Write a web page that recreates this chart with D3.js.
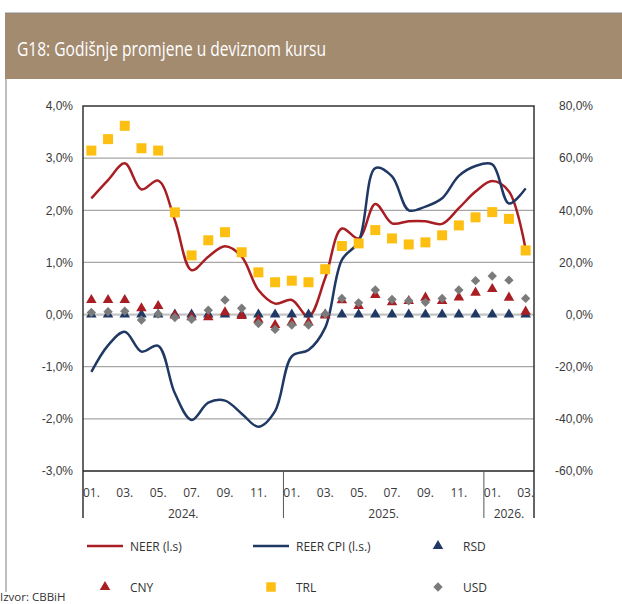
<!DOCTYPE html>
<html>
<head>
<meta charset="utf-8">
<script src="https://cdn.jsdelivr.net/npm/d3@7"></script>
<style>
  body { margin: 0; background: #fff; }
  svg { display: block; font-family: "Open Sans", sans-serif; }
</style>
</head>
<body>
<svg id="chart" width="622" height="604"></svg>
<script>
// Mjeseci (jan 2024 - mar 2026)
const months = ['01.','02.','03.','04.','05.','06.','07.','08.','09.','10.','11.','12.',
                '01.','02.','03.','04.','05.','06.','07.','08.','09.','10.','11.','12.',
                '01.','02.','03.'];
const years = [
  { label: '2024.', from: 0, to: 12 },
  { label: '2025.', from: 12, to: 24 },
  { label: '2026.', from: 24, to: 27 }
];

// Lijeva osa (%)
const neer = [2.23, 2.58, 2.90, 2.40, 2.57, 1.81, 0.85, 1.11, 1.31, 1.11, 0.47, 0.21, 0.28,
              -0.04, 0.70, 1.65, 1.46, 2.12, 1.75, 1.79, 1.79, 1.74, 2.04, 2.36, 2.56, 2.36, 1.25];
const reer = [-1.10, -0.59, -0.33, -0.71, -0.60, -1.51, -2.02, -1.69, -1.65, -1.90, -2.15, -1.85, -0.80,
              -0.68, -0.25, 1.05, 1.40, 2.81, 2.65, 2.00, 2.07, 2.23, 2.66, 2.85, 2.88, 2.13, 2.42];

// Desna osa (%)
const rsd = [0, 0, 0, 0, 0, 0, 0, 0, 0, 0, 0, 0, 0, 0, 0, 0, 0, 0, 0, 0, 0, 0, 0, 0, 0, 0, 0];
const cny = [5.6, 5.6, 5.6, 2.4, 3.3, -0.3, -1.0, -1.0, 0.9, -0.5, -2.0, -4.0, -3.0,
             -3.0, -0.3, 5.5, 3.3, 7.5, 4.7, 5.2, 6.5, 5.2, 6.6, 8.4, 9.8, 6.5, 1.1];
const trl = [62.9, 67.3, 72.4, 63.8, 62.9, 39.2, 22.7, 28.5, 31.6, 23.9, 16.2, 12.4, 13.0,
             12.4, 17.4, 26.3, 27.3, 32.4, 29.2, 26.9, 27.7, 30.4, 34.2, 37.3, 39.3, 36.7, 24.6];
const usd = [0.8, 1.1, 1.3, -2.1, 0.2, -1.1, -1.8, 1.7, 5.6, 2.4, -3.4, -5.7, -4.0,
             -4.0, 0.2, 6.2, 4.5, 9.4, 5.8, 5.3, 4.7, 6.2, 9.4, 13.0, 14.8, 13.2, 6.2];

const leftTicks = [-3, -2, -1, 0, 1, 2, 3, 4];
const rightTicks = [-60, -40, -20, 0, 20, 40, 60, 80];

const svg = d3.select('#chart');
const locale = d3.formatLocale({ decimal: ',', thousands: '.', grouping: [3], currency: ['', ''], minus: '-' });
const fmt = v => locale.format('.1f')(v) + '%';

const red = '#a81e23', navy = '#1f3864', yellow = '#fdbf12', gray = '#7b7b7b';

// Okvir i naslov
svg.append('line').attr('x1', 6).attr('x2', 6).attr('y1', 13).attr('y2', 592)
  .attr('stroke', '#a8a8a8').attr('stroke-width', 1.5);
svg.append('rect').attr('x', 5).attr('y', 13).attr('width', 620).attr('height', 66)
  .attr('fill', '#a38b70');
svg.append('line').attr('x1', 5).attr('x2', 622).attr('y1', 13).attr('y2', 13)
  .attr('stroke', '#8a8a8a').attr('stroke-width', 1);
svg.append('text').attr('x', 17).attr('y', 56).attr('fill', '#fff')
  .attr('font-size', 20).attr('textLength', 309).attr('lengthAdjust', 'spacingAndGlyphs')
  .text('G18: Godišnje promjene u deviznom kursu');

// Skale
const pLeft = 83, pRight = 534, pTop = 106, pBottom = 471;
const x = d3.scaleBand().domain(d3.range(months.length)).range([pLeft, pRight]);
const cx = i => x(i) + x.bandwidth() / 2;
const yL = d3.scaleLinear().domain([-3, 4]).range([pBottom, pTop]);
const yR = d3.scaleLinear().domain([-60, 80]).range([pBottom, pTop]);

// Mreža
svg.append('g').selectAll('line').data(leftTicks.filter(t => t > -3 && t < 4)).enter().append('line')
  .attr('x1', pLeft).attr('x2', pRight)
  .attr('y1', d => yL(d)).attr('y2', d => yL(d))
  .attr('stroke', d => d === 0 ? '#c4c4c4' : '#a6a6a6')
  .attr('stroke-width', d => d === 0 ? 2.2 : 1.2);

// Ose
const axL = svg.append('g').attr('transform', `translate(${pLeft},0)`)
  .call(d3.axisLeft(yL).tickValues(leftTicks).tickFormat(fmt).tickSize(0).tickPadding(10));
const axR = svg.append('g').attr('transform', `translate(${pRight},0)`)
  .call(d3.axisRight(yR).tickValues(rightTicks).tickFormat(fmt).tickSize(0).tickPadding(26));
[axL, axR].forEach(ax => {
  ax.select('.domain').remove();
  ax.selectAll('text').attr('font-size', 12).attr('fill', '#3a3a3a');
});
axR.selectAll('text').attr('text-anchor', 'end').attr('dx', 33);

// Okvir grafika
svg.append('path')
  .attr('d', `M${pLeft},${pBottom + 47}V${pTop}H${pRight}V${pBottom + 47}`)
  .attr('fill', 'none').attr('stroke', '#333').attr('stroke-width', 1.5);
svg.append('line').attr('x1', pLeft).attr('x2', pRight).attr('y1', pBottom).attr('y2', pBottom)
  .attr('stroke', '#222').attr('stroke-width', 1.5);
svg.append('g').selectAll('line').data(years.slice(1)).enter().append('line')
  .attr('x1', d => x(d.from)).attr('x2', d => x(d.from))
  .attr('y1', pBottom).attr('y2', pBottom + 47)
  .attr('stroke', '#555').attr('stroke-width', 1);

// Oznake osi x
svg.append('g').selectAll('text').data(months.map((m, i) => ({ m, i })).filter(d => d.i % 2 === 0))
  .enter().append('text')
  .attr('x', d => cx(d.i)).attr('y', 497)
  .attr('text-anchor', 'middle').attr('font-size', 12).attr('fill', '#3a3a3a')
  .text(d => d.m);
svg.append('g').selectAll('text').data(years).enter().append('text')
  .attr('x', d => (x(d.from) + (d.to < months.length ? x(d.to) : pRight)) / 2).attr('y', 518)
  .attr('text-anchor', 'middle').attr('font-size', 12).attr('fill', '#3a3a3a')
  .text(d => d.label);

// Linije
const line = yScale => d3.line().x((d, i) => cx(i)).y(d => yScale(d)).curve(d3.curveCatmullRom.alpha(0.5));
svg.append('path').datum(neer).attr('d', line(yL))
  .attr('fill', 'none').attr('stroke', red).attr('stroke-width', 2.5);
svg.append('path').datum(reer).attr('d', line(yL))
  .attr('fill', 'none').attr('stroke', navy).attr('stroke-width', 2.5);

// Markeri
const tri = d3.symbol().type(d3.symbolTriangle).size(48);
const sq = d3.symbol().type(d3.symbolSquare).size(100);
const dia = d3.symbol().type(d3.symbolSquare).size(44);

function markers(data, sym, color, rot) {
  svg.append('g').selectAll('path').data(data).enter().append('path')
    .attr('d', sym)
    .attr('transform', (d, i) => `translate(${cx(i)},${yR(d)})` + (rot ? ' rotate(45)' : ''))
    .attr('fill', color);
}
markers(rsd, tri, navy);
markers(cny, tri, red);
markers(usd, dia, gray, true);
markers(trl, sq, yellow);

// Legenda
const legend = [
  { label: 'NEER (l.s)', kind: 'line', color: red, x: 87, y: 546 },
  { label: 'REER CPI (l.s.)', kind: 'line', color: navy, x: 253, y: 546 },
  { label: 'RSD', kind: tri, color: navy, x: 420, y: 546 },
  { label: 'CNY', kind: tri, color: red, x: 87, y: 587 },
  { label: 'TRL', kind: d3.symbol().type(d3.symbolSquare).size(90), color: yellow, x: 253, y: 587 },
  { label: 'USD', kind: dia, color: gray, x: 420, y: 587, rot: true }
];
const lg = svg.append('g').selectAll('g').data(legend).enter().append('g')
  .attr('transform', d => `translate(${d.x},${d.y})`);
lg.filter(d => d.kind === 'line').append('line')
  .attr('x1', 0).attr('x2', 36).attr('stroke', d => d.color).attr('stroke-width', 2.5);
lg.filter(d => d.kind !== 'line').append('path')
  .attr('d', d => d.kind())
  .attr('transform', d => 'translate(18,0)' + (d.rot ? ' rotate(45)' : ''))
  .attr('fill', d => d.color);
lg.append('text').attr('x', 43).attr('y', 4.5)
  .attr('font-size', 12).attr('fill', '#333').text(d => d.label);

svg.append('text').attr('x', 0).attr('y', 601).attr('font-size', 11.5).attr('fill', '#333')
  .text('Izvor: CBBiH');
</script>
</body>
</html>
